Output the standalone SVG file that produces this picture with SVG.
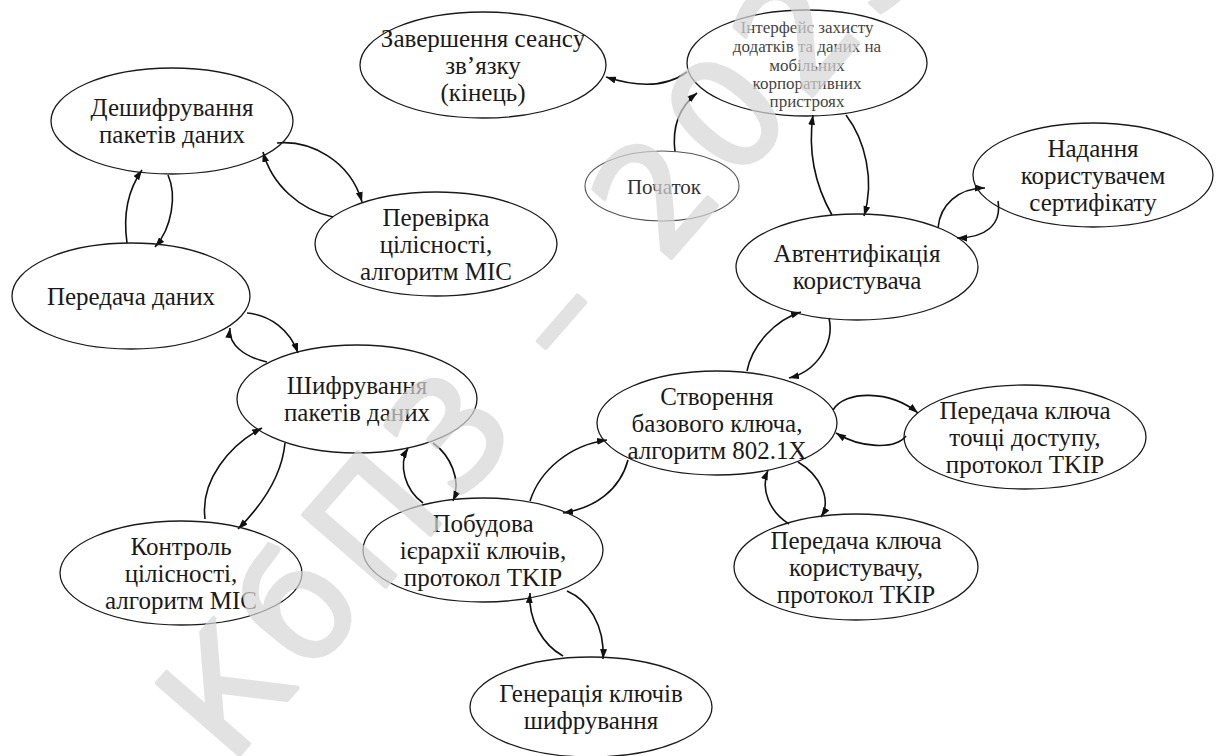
<svg xmlns="http://www.w3.org/2000/svg" width="1221" height="756" viewBox="0 0 1221 756">
<style>
.n ellipse{fill:none;stroke:#1a1a1a;stroke-width:1.3}
.n text{font-family:"Liberation Serif","Times New Roman",serif;font-size:25px;fill:#1a1a1a;text-anchor:middle}
.n text.s{font-size:17px;fill:#444}
.n text.m{font-size:21px;fill:#333}
#n-start ellipse{stroke:#555;stroke-width:1.1}
#edges path{fill:none;stroke:#111;stroke-width:1.6;marker-end:url(#ah)}
.wm{font-family:"DejaVu Sans","Liberation Sans",sans-serif;font-size:150px;letter-spacing:12px;fill:#d6d6d6;stroke:#d6d6d6;stroke-width:4;stroke-linejoin:round;opacity:0.7;text-anchor:middle}
</style>
<defs>
<marker id="ah" markerUnits="userSpaceOnUse" markerWidth="10" markerHeight="8" refX="10" refY="3.5" orient="auto">
<path d="M0,0 L10,3.5 L0,7 z" fill="#111"/>
</marker>
</defs>
<rect width="1221" height="756" fill="#fff"/>
<g id="edges">
<path d="M675 152 C672 128 678 108 697 93"/>
<path d="M687 72 C668 86 640 88 606 77"/>
<path d="M832 215 C815 185 808 150 813 115"/>
<path d="M846 115 C865 140 875 180 864 216"/>
<path d="M938 228 C940 205 958 188 985 188"/>
<path d="M998 201 C1002 225 985 238 957 238"/>
<path d="M747 371 C752 345 775 320 801 312"/>
<path d="M829 318 C835 345 815 372 789 378"/>
<path d="M833 410 C845 390 890 390 918 413"/>
<path d="M906 436 C895 450 860 448 836 433"/>
<path d="M798 462 C820 475 832 500 821 517"/>
<path d="M789 524 C770 512 760 490 768 470"/>
<path d="M530 501 C540 470 570 445 607 440"/>
<path d="M628 460 C620 490 595 508 563 513"/>
<path d="M423 503 C405 490 398 465 408 448"/>
<path d="M433 443 C450 455 462 480 453 501"/>
<path d="M563 656 C543 645 528 620 530 593"/>
<path d="M567 591 C588 600 605 625 603 659"/>
<path d="M205 519 C200 480 230 445 262 428"/>
<path d="M285 443 C282 475 262 505 238 529"/>
<path d="M267 362 C245 357 228 345 230 328"/>
<path d="M247 313 C270 315 290 330 298 353"/>
<path d="M127 243 C123 215 128 190 142 170"/>
<path d="M168 175 C177 195 172 228 155 247"/>
<path d="M277 143 C310 140 350 160 362 202"/>
<path d="M333 217 C300 210 272 185 263 152"/>
</g>
<g id="n-end" class="n"><ellipse cx="483" cy="65" rx="123" ry="53"/>
<text x="483" y="46.5">Завершення сеансу</text><text x="483" y="73.5">зв’язку</text><text x="483" y="100.5">(кінець)</text></g>
<g id="n-iface" class="n"><ellipse cx="807" cy="63" rx="120" ry="53"/>
<text class="s" x="807" y="33">Інтерфейс захисту</text><text class="s" x="807" y="52">додатків та даних на</text><text class="s" x="807" y="71">мобільних</text><text class="s" x="807" y="89">корпоративних</text><text class="s" x="807" y="107">пристроях</text></g>
<g id="n-start" class="n"><ellipse cx="662" cy="186" rx="77" ry="35"/>
<text class="m" x="664" y="194">Початок</text></g>
<g id="n-decrypt" class="n"><ellipse cx="172" cy="121" rx="121" ry="53"/>
<text x="172" y="116">Дешифрування</text><text x="172" y="143">пакетів даних</text></g>
<g id="n-cert" class="n"><ellipse cx="1093" cy="175" rx="120" ry="52"/>
<text x="1093" y="156.5">Надання</text><text x="1093" y="183.5">користувачем</text><text x="1093" y="210.5">сертифікату</text></g>
<g id="n-mic1" class="n"><ellipse cx="436" cy="244" rx="121" ry="52"/>
<text x="436" y="225.5">Перевірка</text><text x="436" y="252.5">цілісності,</text><text x="436" y="279.5">алгоритм MIC</text></g>
<g id="n-auth" class="n"><ellipse cx="857" cy="267" rx="121" ry="53"/>
<text x="857" y="262">Автентифікація</text><text x="857" y="289">користувача</text></g>
<g id="n-tx" class="n"><ellipse cx="131" cy="296" rx="119" ry="53"/>
<text x="131" y="304.5">Передача даних</text></g>
<g id="n-enc" class="n"><ellipse cx="357" cy="399" rx="120" ry="54"/>
<text x="357" y="394">Шифрування</text><text x="357" y="421">пакетів даних</text></g>
<g id="n-base" class="n"><ellipse cx="717" cy="423" rx="120" ry="52"/>
<text x="717" y="404.5">Створення</text><text x="717" y="431.5">базового ключа,</text><text x="717" y="458.5">алгоритм 802.1X</text></g>
<g id="n-ap" class="n"><ellipse cx="1025" cy="437" rx="121" ry="52"/>
<text x="1025" y="418.5">Передача ключа</text><text x="1025" y="445.5">точці доступу,</text><text x="1025" y="472.5">протокол TKIP</text></g>
<g id="n-hier" class="n"><ellipse cx="483" cy="550" rx="120" ry="52"/>
<text x="483" y="531.5">Побудова</text><text x="483" y="558.5">ієрархії ключів,</text><text x="483" y="585.5">протокол TKIP</text></g>
<g id="n-mic2" class="n"><ellipse cx="181" cy="573" rx="121" ry="52"/>
<text x="181" y="554.5">Контроль</text><text x="181" y="581.5">цілісності,</text><text x="181" y="608.5">алгоритм MIC</text></g>
<g id="n-user" class="n"><ellipse cx="856" cy="567" rx="122" ry="53"/>
<text x="856" y="548.5">Передача ключа</text><text x="856" y="575.5">користувачу,</text><text x="856" y="602.5">протокол TKIP</text></g>
<g id="n-gen" class="n"><ellipse cx="591" cy="707" rx="121" ry="50"/>
<text x="591" y="702">Генерація ключів</text><text x="591" y="729">шифрування</text></g>
<text class="wm" transform="translate(588 354) rotate(-49)" x="0" y="0">КбПЗ – 2023</text>
</svg>
